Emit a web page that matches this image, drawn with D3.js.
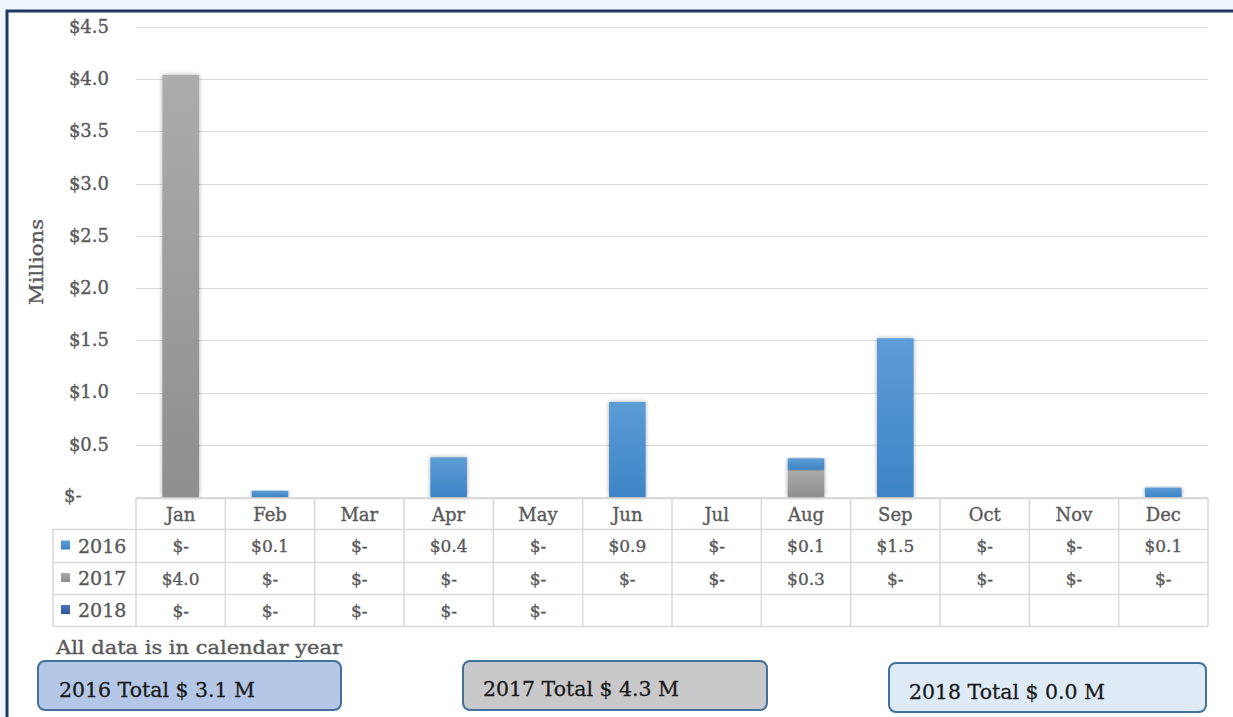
<!DOCTYPE html>
<html><head><meta charset="utf-8">
<script src="https://cdn.jsdelivr.net/npm/d3@7"></script>
<style>
html,body{margin:0;padding:0;background:#f0f7fc;}
svg{display:block;}
</style></head>
<body>
<script>
const months = ["Jan","Feb","Mar","Apr","May","Jun","Jul","Aug","Sep","Oct","Nov","Dec"];
const seriesNames = ["2016","2017","2018"];
const values2016 = [0, 0.06, 0, 0.38, 0, 0.91, 0, 0.11, 1.52, 0, 0, 0.09];
const values2017 = [4.04, 0, 0, 0, 0, 0, 0, 0.26, 0, 0, 0, 0];
const values2018 = [0, 0, 0, 0, 0, null, null, null, null, null, null, null];
const yTicks = [0, 0.5, 1.0, 1.5, 2.0, 2.5, 3.0, 3.5, 4.0, 4.5];
const totalLabels = ["2016 Total $ 3.1 M", "2017 Total $ 4.3 M", "2018 Total $ 0.0 M"];
const footnote = "All data is in calendar year";
const axisTitle = "Millions";

(function(){
const W = 1233, H = 717;
const FONT = "DejaVu Serif";
const GREY = "#595959";
const svg = d3.select("body").append("svg").attr("width", W).attr("height", H);

const defs = svg.append("defs");
const gBlue = defs.append("linearGradient").attr("id","gBlue").attr("x1",0).attr("y1",0).attr("x2",0).attr("y2",1);
gBlue.append("stop").attr("offset","0%").attr("stop-color","#5d9dd6");
gBlue.append("stop").attr("offset","100%").attr("stop-color","#3c84c6");
const gGray = defs.append("linearGradient").attr("id","gGray").attr("x1",0).attr("y1",0).attr("x2",0).attr("y2",1);
gGray.append("stop").attr("offset","0%").attr("stop-color","#acacac");
gGray.append("stop").attr("offset","100%").attr("stop-color","#8e8e8e");
const gNavy = defs.append("linearGradient").attr("id","gNavy").attr("x1",0).attr("y1",0).attr("x2",0).attr("y2",1);
gNavy.append("stop").attr("offset","0%").attr("stop-color","#4a72bb");
gNavy.append("stop").attr("offset","100%").attr("stop-color","#2f5597");
const shadow = defs.append("filter").attr("id","sh").attr("x","-30%").attr("y","-10%").attr("width","160%").attr("height","120%");
shadow.append("feDropShadow").attr("dx",0).attr("dy",0).attr("stdDeviation",2).attr("flood-color","#000").attr("flood-opacity",0.35);

svg.append("rect").attr("x",7).attr("y",11).attr("width",W+10).attr("height",H).attr("fill","#ffffff")
  .attr("stroke","#1f3864").attr("stroke-width",3);

const pl = 136, pr = 1208, pt = 27, pb = 497;
const x = d3.scaleBand().domain(months).range([pl, pr]).paddingInner(0.59).paddingOuter(0.295);
const xCell = d3.scaleBand().domain(months).range([pl, pr]);
const y = d3.scaleLinear().domain([0, 4.5]).range([pb, pt]);

svg.append("g").selectAll("line").data(yTicks).join("line")
  .attr("x1", pl).attr("x2", pr)
  .attr("y1", d => Math.round(y(d)) + 0.5).attr("y2", d => Math.round(y(d)) + 0.5)
  .attr("stroke", "#d9d9d9").attr("stroke-width", 1);

function styleText(sel, size) {
  sel.attr("font-family", FONT).attr("font-size", size).attr("fill", GREY)
     .attr("stroke", GREY).attr("stroke-width", 0.35);
  return sel;
}

const fmtAxis = d => d === 0 ? "$-" : "$" + d.toFixed(1);
const yAxis = d3.axisLeft(y).tickValues(yTicks).tickSize(0).tickPadding(0).tickFormat(fmtAxis);
const yg = svg.append("g").attr("transform", `translate(${pl - 27},0)`).call(yAxis);
yg.select(".domain").remove();
styleText(yg.selectAll("text"), 18).attr("dy", "0.3em");
yg.selectAll(".tick").filter(d => d === 0).select("text").attr("x", -45).attr("text-anchor","start").attr("dy","0.25em");

styleText(svg.append("text"), 19).attr("transform", `translate(43,${(pt+pb)/2}) rotate(-90)`)
  .attr("text-anchor","middle").attr("textLength", 86).attr("lengthAdjust","spacingAndGlyphs").text(axisTitle);

const stackData = months.map((m, i) => ({month: m, s2017: values2017[i] || 0, s2016: values2016[i] || 0, s2018: values2018[i] || 0}));
const stack = d3.stack().keys(["s2017","s2016","s2018"]);
const layers = stack(stackData);
const fills = {s2016: "url(#gBlue)", s2017: "url(#gGray)", s2018: "url(#gNavy)"};
svg.append("g").selectAll("g").data(layers).join("g")
  .attr("fill", d => fills[d.key])
  .selectAll("rect").data(d => d.filter(p => p[1] - p[0] > 0)).join("rect")
  .attr("x", d => x(d.data.month)).attr("width", x.bandwidth())
  .attr("y", d => y(d[1])).attr("height", d => y(d[0]) - y(d[1]))
  .attr("filter", "url(#sh)");

const rowTop = 498, rowH = [31, 33, 32, 32];
const rowY = [rowTop];
rowH.forEach((h, i) => rowY.push(rowY[i] + h));
const tableLeft = 53;
const tg = svg.append("g");
const lineColor = "#d9d9d9";
rowY.forEach((yy, i) => {
  tg.append("line").attr("x1", i === 0 ? pl : tableLeft).attr("x2", pr)
    .attr("y1", yy + 0.5).attr("y2", yy + 0.5).attr("stroke", lineColor).attr("stroke-width", 1.5);
});
const vx = [pl].concat(months.map(m => xCell(m) + xCell.bandwidth()));
vx.forEach(xx => {
  tg.append("line").attr("x1", xx).attr("x2", xx).attr("y1", rowY[0]).attr("y2", rowY[4])
    .attr("stroke", lineColor).attr("stroke-width", 1.5);
});
tg.append("line").attr("x1", tableLeft).attr("x2", tableLeft).attr("y1", rowY[1]).attr("y2", rowY[4])
  .attr("stroke", lineColor).attr("stroke-width", 1.5);

styleText(tg.selectAll("text.m").data(months).join("text").attr("class","m"), 18)
  .attr("x", d => xCell(d) + xCell.bandwidth()/2).attr("y", (rowY[0]+rowY[1])/2 + 7)
  .attr("text-anchor","middle").text(d => d);

const fmtCell = v => v === null ? "" : (v === 0 ? "$-" : "$" + v.toFixed(1));
const seriesVals = [values2016, values2017, values2018];
const swatch = ["url(#gBlue)", "url(#gGray)", "url(#gNavy)"];
seriesVals.forEach((vals, r) => {
  const cy = (rowY[r+1] + rowY[r+2]) / 2;
  tg.append("rect").attr("x", 61).attr("y", cy - 5).attr("width", 9).attr("height", 9).attr("fill", swatch[r]);
  styleText(tg.append("text"), 19).attr("x", 78).attr("y", cy + 7).text(seriesNames[r]);
  styleText(tg.selectAll(null).data(months).join("text"), 17)
    .attr("x", d => xCell(d) + xCell.bandwidth()/2).attr("y", cy + 6.5)
    .attr("text-anchor","middle")
    .text((d, i) => fmtCell(vals[i]));
});

styleText(svg.append("text"), 18).attr("x", 56).attr("y", 654)
  .attr("textLength", 286).attr("lengthAdjust","spacingAndGlyphs").text(footnote);

const boxes = [
  {x: 38, y: 661, w: 303, h: 49, fill: "#b4c7e7", tx: 59, ty: 697},
  {x: 463, y: 661, w: 304, h: 49, fill: "#c9c9cb", tx: 483, ty: 696},
  {x: 889, y: 663, w: 317, h: 49, fill: "#deebf7", tx: 909, ty: 699}
];
boxes.forEach((b, i) => {
  svg.append("rect").attr("x", b.x).attr("y", b.y).attr("width", b.w).attr("height", b.h)
    .attr("rx", 7).attr("ry", 7).attr("fill", b.fill).attr("stroke", "#41719c").attr("stroke-width", 2);
  svg.append("text").attr("x", b.tx).attr("y", b.ty).attr("font-family", FONT).attr("font-size", 20)
    .attr("fill","#1a1a1a").attr("stroke","#1a1a1a").attr("stroke-width",0.3)
    .attr("textLength", 196).attr("lengthAdjust","spacingAndGlyphs").text(totalLabels[i]);
});
})();
</script>
</body></html>
